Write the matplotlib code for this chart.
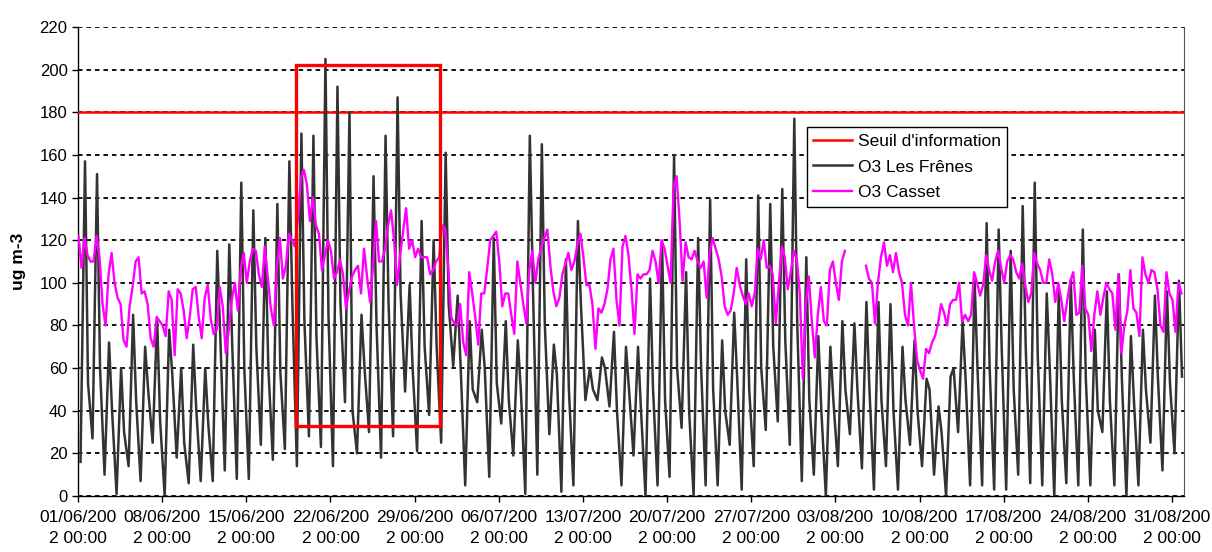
import datetime
import numpy as np
import matplotlib
matplotlib.use("Agg")
import matplotlib.pyplot as plt
from matplotlib.patches import Rectangle

plt.rcParams["font.family"] = ["Liberation Sans", "DejaVu Sans"]

#######################################################
# data (ug m-3), 01/06/2002 -> 31/08/2002
#######################################################
start = datetime.datetime(2002, 6, 1)
n_days = 92
threshold = 180

# O3 Les Frenes: night minimum (~05h), afternoon maximum (~14h), evening (~20h)
fr_min = [16, 27, 10, 1, 14, 7, 25, 0, 18, 6,
          7, 7, 12, 8, 8, 24, 17, 22, 14, 28,
          23, 14, 44, 20, 30, 18, 28, 49, 21, 38,
          25, 61, 5, 44, 9, 34, 19, 1, 10, 29,
          2, 5, 45, 45, 42, 5, 19, 0, 5, 9,
          32, 0, 5, 5, 24, 3, 14, 31, 35, 24,
          7, 10, 0, 14, 29, 13, 3, 14, 3, 24,
          14, 10, 0, 30, 5, 5, 3, 3, 10, 6,
          5, 0, 6, 5, 5, 30, 5, 0, 5, 25,
          12, 20]
fr_max = [157, 151, 72, 60, 85, 70, 83, 78, 60, 71,
          60, 115, 118, 147, 134, 121, 137, 157, 170, 169,
          205, 192, 180, 85, 150, 169, 187, 99, 129, 120,
          161, 94, 82, 78, 121, 82, 73, 169, 165, 71,
          111, 129, 60, 65, 77, 70, 70, 102, 119, 160,
          105, 121, 139, 73, 86, 111, 141, 137, 144, 177,
          112, 75, 70, 82, 81, 91, 91, 90, 70, 73,
          55, 42, 56, 82, 101, 128, 125, 115, 136, 147,
          95, 96, 101, 125, 78, 96, 104, 75, 78, 94,
          96, 101]
fr_eve = [53, 60, 40, 30, 45, 50, 35, 58, 25, 41,
          34, 75, 70, 60, 70, 60, 58, 90, 82, 75,
          85, 90, 40, 60, 80, 90, 95, 60, 70, 70,
          90, 60, 50, 60, 53, 45, 50, 100, 80, 57,
          50, 90, 50, 60, 40, 50, 40, 50, 45, 60,
          40, 60, 50, 40, 55, 50, 60, 70, 73, 80,
          45, 40, 45, 50, 50, 50, 45, 40, 45, 40,
          50, 30, 60, 55, 58, 60, 70, 50, 70, 66,
          60, 45, 55, 55, 40, 45, 55, 45, 50, 55,
          53, 56]

# O3 Casset, read at 01h, 07h, 13h and 19h (nan = no data)
nan = np.nan
cs_01h = [122, 110, 90, 100, 70, 112, 74, 80, 66, 74,
          84, 83, 89, 100, 100, 104, 88, 102, 117, 146,
          123, 115, 104, 106, 103, 110, 134, 124, 112, 112,
          112, 84, 72, 84, 107, 110, 85, 90, 100, 125,
          93, 106, 112, 69, 97, 80, 97, 104, 110, 108,
          129, 111, 110, 116, 85, 99, 89, 120, 81, 97,
          95, 82, 82, 100, nan, nan, 100, 119, 114, 80,
          59, 72, 86, 92, 82, 94, 101, 100, 105, 91,
          106, 104, 82, 85, 85, 85, 95, 80, 86, 100,
          80, 92]
cs_07h = [107, 110, 80, 93, 89, 95, 70, 75, 97, 84,
          74, 76, 67, 87, 110, 98, 80, 108, 130, 129,
          106, 102, 88, 108, 91, 110, 120, 135, 116, 104,
          127, 81, 66, 71, 120, 89, 76, 81, 111, 108,
          104, 110, 99, 88, 111, 117, 76, 104, 100, 100,
          101, 115, 93, 111, 87, 94, 95, 107, 99, 105,
          55, 65, 80, 92, nan, nan, 81, 108, 105, 100,
          55, 75, 80, 100, 85, 99, 110, 110, 102, 95,
          100, 91, 92, 86, 68, 93, 78, 87, 75, 106,
          77, 77]
cs_13h = [121, 122, 104, 90, 98, 96, 84, 96, 95, 97,
          93, 78, 78, 107, 116, 117, 108, 123, 149, 140,
          113, 105, 96, 95, 108, 116, 99, 116, 112, 106,
          125, 80, 105, 95, 122, 95, 110, 106, 117, 96,
          109, 118, 99, 86, 116, 122, 104, 106, 120, 145,
          119, 110, 114, 103, 95, 90, 116, 108, 117, 115,
          90, 85, 106, 110, nan, 108, 100, 113, 100, 80,
          69, 81, 90, 82, 105, 113, 115, 113, 109, 114,
          100, 100, 101, 108, 85, 100, 104, 106, 112, 105,
          105, 100]
cs_19h = [113, 112, 114, 73, 110, 90, 82, 92, 87, 98,
          99, 98, 92, 114, 115, 102, 121, 120, 153, 127,
          120, 111, 103, 116, 129, 127, 113, 120, 112, 110,
          108, 90, 95, 95, 124, 95, 100, 115, 121, 89,
          114, 123, 90, 90, 92, 113, 102, 115, 116, 150,
          112, 107, 121, 89, 107, 95, 111, 104, 112, 111,
          103, 98, 110, 115, nan, 102, 112, 105, 85, 64,
          67, 90, 92, 85, 100, 106, 107, 111, 99, 109,
          111, 92, 105, 88, 96, 97, 67, 88, 104, 97,
          95, 95]

# highlighted episode (hours since start, ug m-3)
box_t0, box_t1 = 435, 722
box_lo, box_hi = 33, 202

#######################################################
# series on an hourly axis
#######################################################
days = np.arange(n_days) * 24
fr_t = np.ravel(np.column_stack([days + 5, days + 14, days + 20]))
fr_v = np.ravel(np.column_stack([fr_min, fr_max, fr_eve])).astype(float)
cs_t = np.ravel(np.column_stack([days + 1, days + 7, days + 13, days + 19]))
cs_v = np.ravel(np.column_stack([cs_01h, cs_07h, cs_13h, cs_19h])).astype(float)

tick_hours = np.arange(0, n_days * 24, 7 * 24)
tick_labels = []
for h in tick_hours:
    s = (start + datetime.timedelta(hours=int(h))).strftime("%d/%m/%Y %H:%M")
    tick_labels.append(s[:9] + "\n" + s[9:])

#######################################################
# plot
#######################################################
fig = plt.figure(figsize=(12.12, 5.52), dpi=100)
ax = fig.add_axes([78 / 1212, 1 - 496 / 552, 1106 / 1212, 469 / 552])

ax.axhline(threshold, color="#ff0000", lw=1.8, label="Seuil d'information", zorder=3)
ax.plot(fr_t, fr_v, color="#333333", lw=1.8, label="O3 Les Frênes", zorder=4)
ax.plot(cs_t, cs_v, color="#ff00ff", lw=1.7, label="O3 Casset", zorder=5)

ax.add_patch(Rectangle((box_t0, box_lo), box_t1 - box_t0, box_hi - box_lo,
                       fill=False, ec="#ff0000", lw=2.4, zorder=6))

ax.set_xlim(0, n_days * 24)
ax.set_ylim(0, 220)
ax.set_yticks(range(0, 221, 20))
ax.set_xticks(tick_hours)
ax.set_xticklabels(tick_labels, fontsize=12.5, linespacing=1.5)
ax.tick_params(axis="y", labelsize=12, length=4, width=1, direction="out")
ax.tick_params(axis="x", length=4, width=1, direction="out", pad=6)

ax.yaxis.grid(True, color="black", linestyle=(0, (2.5, 2.2)), lw=1.3)
ax.set_axisbelow(True)
for side in ["left", "bottom"]:
    ax.spines[side].set_color("black")
    ax.spines[side].set_linewidth(1.0)
ax.spines["top"].set_visible(False)
ax.spines["right"].set_color("#555555")
ax.spines["right"].set_linewidth(0.8)

ax.set_ylabel("ug m-3", fontsize=12.5, fontweight="bold")
ax.yaxis.set_label_coords(-0.047, 0.5)

leg = ax.legend(loc="upper left", bbox_to_anchor=(0.659, 0.787), fontsize=12.5,
                frameon=True, fancybox=False, edgecolor="black", framealpha=1,
                handlelength=2.2, labelspacing=0.62, borderpad=0.38,
                handletextpad=0.35, borderaxespad=0)
leg.get_frame().set_linewidth(1.0)

fig.savefig("out.png", dpi=100)
